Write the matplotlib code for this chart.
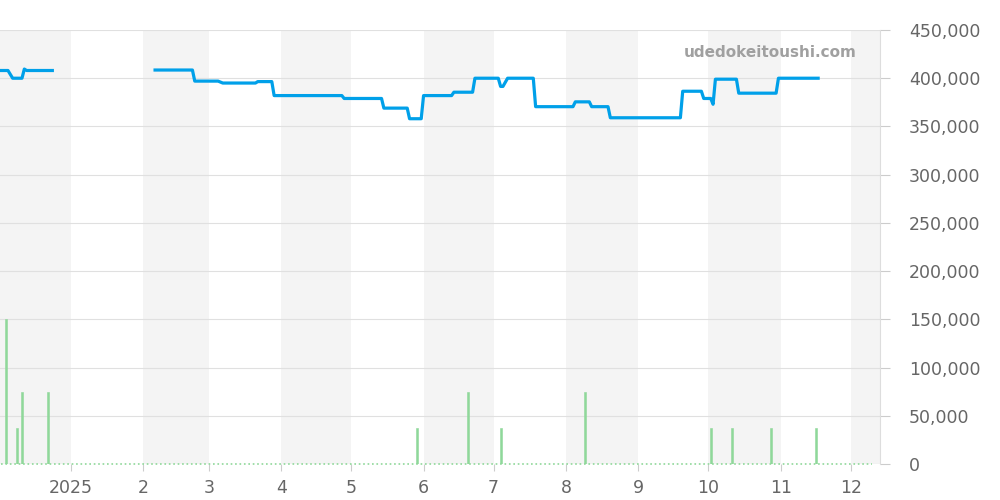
import pandas as pd
import matplotlib.pyplot as plt
import matplotlib.dates as mdates
from matplotlib.ticker import FuncFormatter

# price runs: (first day, last day, price) ; gap in Jan 2025 between runs
run1_start = ['2024-12-02', '2024-12-07', '2024-12-12', '2024-12-13']
run1_end = ['2024-12-05', '2024-12-11', '2024-12-12', '2024-12-24']
run1_price = [408000, 400000, 409500, 408000]

run2_start = ['2025-02-06', '2025-02-23', '2025-03-07', '2025-03-22', '2025-03-29',
              '2025-04-28', '2025-05-15', '2025-05-26', '2025-06-01', '2025-06-14',
              '2025-06-23', '2025-07-04', '2025-07-07', '2025-07-19', '2025-08-05',
              '2025-08-12', '2025-08-20', '2025-09-20', '2025-09-29', '2025-10-03',
              '2025-10-04', '2025-10-14', '2025-10-31']
run2_end = ['2025-02-22', '2025-03-05', '2025-03-21', '2025-03-28', '2025-04-27',
            '2025-05-14', '2025-05-25', '2025-05-31', '2025-06-13', '2025-06-22',
            '2025-07-03', '2025-07-05', '2025-07-18', '2025-08-04', '2025-08-11',
            '2025-08-19', '2025-09-19', '2025-09-28', '2025-10-02', '2025-10-03',
            '2025-10-13', '2025-10-30', '2025-11-17']
run2_price = [408500, 397000, 395000, 396500, 382000,
              379000, 369000, 358000, 382000, 385500,
              400000, 391500, 400000, 370500, 375500,
              370500, 359000, 386500, 379000, 373000,
              399000, 384500, 400000]

vol_dates = ['2024-12-04', '2024-12-09', '2024-12-11', '2024-12-22', '2025-05-29',
             '2025-06-20', '2025-07-04', '2025-08-09', '2025-10-02', '2025-10-11',
             '2025-10-28', '2025-11-16']
vol_values = [150000, 37500, 75000, 75000, 37500,
              75000, 37500, 75000, 37500, 37500,
              37500, 37500]
vol_range = ['2024-12-02', '2025-12-10']

shade_months = ['2024-12-01', '2025-02-01', '2025-04-01', '2025-06-01',
                '2025-08-01', '2025-10-01', '2025-12-01']

BLUE = '#00a0e9'
GREEN = '#8fd89a'
GRAY_TXT = '#666666'


def run_points(starts, ends, prices):
    xs, ys = [], []
    for s, e, p in zip(starts, ends, prices):
        xs += [pd.Timestamp(s), pd.Timestamp(e)]
        ys += [p, p]
    return xs, ys


fig = plt.figure(figsize=(10, 5), dpi=100)
ax = fig.add_axes([0.0, 0.072, 0.88, 0.868])

for m in shade_months:
    start = pd.Timestamp(m)
    ax.axvspan(start, start + pd.offsets.MonthBegin(1), color='#f4f4f4', lw=0, zorder=0)

ax.plot(pd.to_datetime(vol_range), [0, 0], color=GREEN, lw=1.2, ls=':', zorder=2, clip_on=False)
ax.bar(pd.to_datetime(vol_dates), vol_values, width=0.9, color=GREEN,
       edgecolor=GREEN, lw=0.4, zorder=2)

for st, en, pr in [(run1_start, run1_end, run1_price), (run2_start, run2_end, run2_price)]:
    xs, ys = run_points(st, en, pr)
    ax.plot(xs, ys, color=BLUE, lw=2.3, solid_joinstyle='round', zorder=3)

ax.set_ylim(0, 450000)
ax.set_xlim(pd.Timestamp('2024-12-01 14:00'), pd.Timestamp('2025-12-13 12:00'))
ax.set_yticks(range(0, 450001, 50000))
ax.yaxis.set_major_formatter(FuncFormatter(lambda v, p: f'{int(v):,}'))
ax.yaxis.tick_right()
ax.grid(axis='y', color='#e0e0e0', lw=0.8, zorder=1)
ax.set_axisbelow(True)

ax.xaxis.set_major_locator(mdates.MonthLocator(bymonth=range(1, 13)))
ax.xaxis.set_major_formatter(FuncFormatter(
    lambda v, p: str(mdates.num2date(v).year) if mdates.num2date(v).month == 1 else str(mdates.num2date(v).month)))

for side in ['left', 'top', 'bottom']:
    ax.spines[side].set_visible(False)
ax.spines['right'].set_color('#dddddd')
ax.tick_params(axis='y', colors='#cccccc', labelcolor=GRAY_TXT, labelsize=12.5, length=7, pad=14)
ax.tick_params(axis='x', colors='#cccccc', labelcolor=GRAY_TXT, labelsize=12.5, length=5, pad=6)

ax.text(0.974, 0.949, 'udedokeitoushi.com', transform=ax.transAxes, ha='right', va='center',
        fontsize=11, fontweight='bold', color='#a0a0a0', zorder=4)

fig.savefig('out.png')
